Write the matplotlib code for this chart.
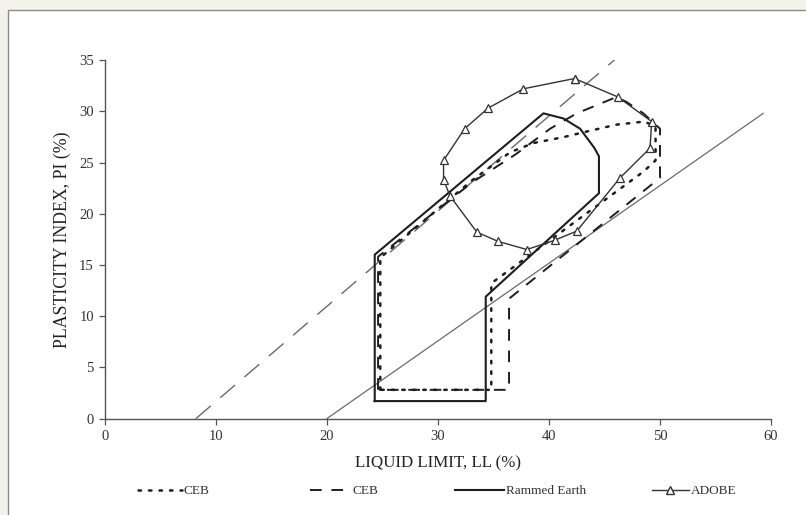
import matplotlib
matplotlib.use("Agg")
import matplotlib.pyplot as plt
from matplotlib.patches import Rectangle
from matplotlib.lines import Line2D

plt.rcParams['font.family'] = ['Liberation Serif', 'DejaVu Serif']

# ---- data ----
u_line_ll = [8.2, 46.2]
u_line_pi = [0.0, 35.3]

a_line_ll = [20.0, 59.3]
a_line_pi = [0.0, 29.8]

ceb_dot_ll = [24.8, 24.8, 33.0, 36.5, 38.6, 41.4, 43.7, 46.1, 48.6, 49.6, 49.6, 48.5, 34.8, 34.8, 24.8]
ceb_dot_pi = [2.8, 15.7, 23.2, 26.0, 26.9, 27.5, 28.1, 28.7, 29.0, 28.5, 25.2, 24.1, 13.2, 2.8, 2.8]

ceb_dash_ll = [24.6, 24.6, 33.0, 37.0, 40.1, 42.5, 46.1, 47.0, 48.5, 50.0, 50.0, 36.4, 36.4, 24.6]
ceb_dash_pi = [2.8, 15.8, 23.0, 25.8, 28.3, 29.8, 31.4, 30.9, 29.8, 28.3, 23.5, 11.7, 2.8, 2.8]

rammed_ll = [24.3, 24.3, 39.5, 41.3, 42.8, 44.1, 44.5, 44.5, 34.3, 34.3, 24.3]
rammed_pi = [1.7, 16.0, 29.8, 29.3, 28.3, 26.4, 25.6, 22.0, 11.9, 1.7, 1.7]

adobe_ll = [42.3, 46.2, 49.25, 49.1, 46.4, 42.5, 40.5, 38.0, 35.4, 33.5, 31.1, 30.5, 30.5, 32.4, 34.5, 37.7, 42.3]
adobe_pi = [33.2, 31.4, 29.0, 26.4, 23.5, 18.3, 17.4, 16.5, 17.3, 18.2, 21.7, 23.3, 25.2, 28.3, 30.3, 32.2, 33.2]

x_ticks = [0, 10, 20, 30, 40, 50, 60]
y_ticks = [0, 5, 10, 15, 20, 25, 30, 35]

legend_labels = ["CEB", "CEB", "Rammed Earth", "ADOBE"]

# ---- figure ----
W, H = 806, 515
fig = plt.figure(figsize=(W / 100, H / 100), dpi=100)
fig.patch.set_facecolor('#f3f3ec')
fig.patches.append(Rectangle((8 / W, -0.05), 1.1, 1 - 10 / H + 0.05,
                             transform=fig.transFigure, facecolor='white',
                             edgecolor='#8a8a8a', linewidth=1.0, zorder=-10))

ax = fig.add_axes([105 / W, 1 - 418.5 / H, 666 / W, 358.4 / H])
ax.set_zorder(2)
ax.set_facecolor('none')

ink = '#1e1e1e'
ax.plot(u_line_ll, u_line_pi, color='#6a6a6a', lw=1.0, linestyle=(0, (14, 9)))
ax.plot(a_line_ll, a_line_pi, color='#6a6a6a', lw=0.9, linestyle='-')

ax.plot(ceb_dot_ll, ceb_dot_pi, color=ink, lw=1.8, linestyle=(0, (1, 3.2)),
        dash_capstyle='round')
ax.plot(ceb_dash_ll, ceb_dash_pi, color=ink, lw=1.4, linestyle=(0, (6, 5)))
ax.plot(rammed_ll, rammed_pi, color=ink, lw=1.5, linestyle='-')
ax.plot(adobe_ll, adobe_pi, color='#333333', lw=1.0, marker='^', markersize=6,
        markerfacecolor='white', markeredgecolor='#333333', markeredgewidth=0.9)

ax.set_xlim(0, 60)
ax.set_ylim(0, 35)
ax.set_xticks(x_ticks)
ax.set_yticks(y_ticks)
for s in ['top', 'right']:
    ax.spines[s].set_visible(False)
for s in ['left', 'bottom']:
    ax.spines[s].set_color('#555555')
    ax.spines[s].set_linewidth(1.0)
ax.tick_params(axis='both', direction='out', length=4, width=0.9,
               color='#555555', labelcolor='#333333', labelsize=10.5, pad=4)

ax.set_xlabel("LIQUID LIMIT, LL (%)", fontsize=12.2, color='#222222', labelpad=9)
ax.set_ylabel("PLASTICITY INDEX, PI (%)", fontsize=12.8, color='#222222', labelpad=6)

# ---- legend (four separate entries, as in the reference) ----
handles = [
    Line2D([], [], color=ink, lw=1.8, linestyle=(0, (1, 3.2)), dash_capstyle='round'),
    Line2D([], [], color=ink, lw=1.4, linestyle=(0, (6, 5))),
    Line2D([], [], color=ink, lw=1.5),
    Line2D([], [], color='#333333', lw=1.0, marker='^', markersize=6,
           markerfacecolor='white', markeredgecolor='#333333'),
]
leg_x = [138, 310, 455, 652]
leg_hl = [3.3, 3.1, 3.7, 2.8]
for h, lab, xp, hl in zip(handles, legend_labels, leg_x, leg_hl):
    lg = fig.legend([h], [lab], loc='center left',
                    bbox_to_anchor=(xp / W, 1 - 491 / H),
                    frameon=False, fontsize=9.5, handlelength=hl,
                    handletextpad=0.15, borderpad=0, borderaxespad=0)
    for t in lg.get_texts():
        t.set_color('#333333')

fig.savefig("out.png", dpi=100, facecolor=fig.get_facecolor())
